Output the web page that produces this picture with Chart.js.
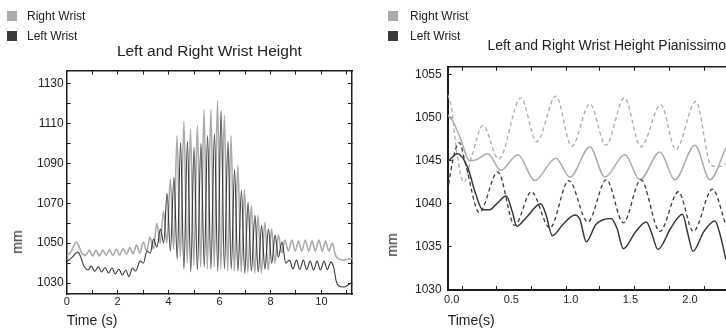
<!DOCTYPE html>
<html><head><meta charset="utf-8">
<script src="https://cdn.jsdelivr.net/npm/chart.js@4.4.1/dist/chart.umd.min.js"></script>
<style>
html,body{margin:0;padding:0;background:#fff;overflow:hidden;width:726px;height:330px;}
.panel{position:absolute;top:0;width:363px;height:330px;}
canvas{display:block;position:absolute;left:0;top:0;}
.legend{position:absolute;left:0;top:0;font:12px 'Liberation Sans',Arial,sans-serif;color:#222;}
.legend .item{position:absolute;white-space:nowrap;height:14px;line-height:14px;}
.legend .sw{position:absolute;left:0;top:2px;width:10px;height:10px;}
.legend .tx{position:absolute;top:0;}
.ylab{position:absolute;font:14px 'Liberation Sans',Arial,sans-serif;color:#222;transform:translate(-50%,-50%) rotate(-90deg);white-space:nowrap;}
</style></head>
<body>
<div class="panel" id="p1" style="left:0">
  <canvas id="c1" width="363" height="330"></canvas>
  <div class="legend" id="lg1"></div>
  <div class="ylab" style="left:17px;top:242px">mm</div>
</div>
<div class="panel" id="p2" style="left:363px">
  <canvas id="c2" width="363" height="330"></canvas>
  <div class="legend" id="lg2"></div>
  <div class="ylab" style="left:29px;top:245px">mm</div>
</div>
<script>
// ---------- Left panel: Left and Right Wrist Height ----------
const leftTimeRight = [0,0.18,0.38,0.62,0.75,0.89,1.02,1.15,1.28,1.42,1.55,1.68,1.81,1.95,2.08,2.21,2.34,2.48,2.61,2.74,2.87,3.01,3.14,3.27,3.40,3.54,3.67,3.80,3.93,4.07,4.20,4.33,4.46,4.60,4.73,4.86,4.99,5.13,5.26,5.39,5.52,5.66,5.79,5.92,6.05,6.19,6.32,6.45,6.58,6.72,6.85,6.98,7.11,7.25,7.38,7.51,7.64,7.78,7.91,8.04,8.17,8.31,8.44,8.57,8.70,8.84,8.97,9.10,9.23,9.37,9.50,9.63,9.76,9.90,10.03,10.16,10.29,10.43,10.55,10.68,10.90,11.05,11.20];
const leftHeightRight = [1043.5,1046,1050.5,1044.5,1044,1046.5,1043.5,1046.5,1043.5,1046.5,1043.8,1046.8,1043.8,1047,1044,1047.3,1044.3,1047.8,1044.6,1049,1045,1050.5,1046,1053,1047,1060,1050,1066,1050,1082,1047,1104,1043,1111,1040,1107,1039,1109,1038,1117,1037,1117,1038,1121.5,1037,1114,1036,1104,1036,1089,1035.5,1077,1035.5,1069,1035,1064,1035,1060.5,1036.5,1057,1040,1054,1045,1051.5,1046,1051.5,1046,1051,1046,1051.5,1046,1051,1046,1051.5,1046,1051,1046,1050,1044,1042,1041.5,1042,1042.3];
const leftTimeLeft = [0,0.18,0.44,0.70,0.84,0.97,1.10,1.24,1.37,1.51,1.64,1.78,1.91,2.05,2.18,2.32,2.44,2.58,2.71,2.88,3.01,3.15,3.28,3.41,3.54,3.68,3.81,3.94,4.07,4.21,4.34,4.47,4.60,4.74,4.87,5.00,5.13,5.27,5.40,5.53,5.66,5.80,5.93,6.06,6.19,6.33,6.46,6.59,6.72,6.86,6.99,7.12,7.25,7.39,7.52,7.65,7.78,7.92,8.05,8.18,8.31,8.45,8.60,8.75,8.88,9.02,9.15,9.29,9.42,9.56,9.69,9.83,9.96,10.10,10.23,10.37,10.48,10.58,10.68,10.90,11.10,11.20];
const leftHeightLeft = [1040.7,1042.5,1045.5,1038,1036.5,1038.5,1035.8,1038.2,1035.5,1037.8,1035,1037.5,1034.5,1037,1034,1036.5,1033.2,1037.5,1036,1041,1040,1046,1045,1052,1048,1057,1050,1075,1046,1083,1042,1100.5,1037,1101,1035.5,1098,1036.5,1100,1038,1104,1037,1105,1036,1116.5,1037,1101,1037,1087,1036,1076.5,1035,1070.5,1036,1064,1035.5,1059,1037,1057,1040,1054,1043,1050.5,1040,1041.5,1037,1041.5,1036.8,1041.5,1036.8,1041,1036.5,1041,1036.5,1041,1036.8,1040.5,1038,1031,1028.5,1028,1029.5,1030.5];
const leftXTicks = [0,1,2,3,4,5,6,7,8,9,10,11];
const leftXLabels = [0,2,4,6,8,10];
const leftYTicks = [1030,1040,1050,1060,1070,1080,1090,1100,1110,1120,1130];
const leftYLabels = [1030,1050,1070,1090,1110,1130];

// ---------- Right panel: Pianissimo ----------
const pianoTimeRightSolid = [-0.034,0,0.067,0.151,0.202,0.303,0.412,0.555,0.697,0.874,0.992,1.160,1.286,1.454,1.580,1.748,1.874,2.042,2.168,2.303];
const pianoHeightRightSolid = [1050.3,1049.8,1047.8,1045,1045.1,1045.8,1043.9,1045.7,1042.7,1045.3,1043.1,1046.6,1043.1,1045.7,1042.8,1046,1042.8,1046.8,1042.8,1046.5];
const pianoTimeRightDashed = [-0.034,0,0.042,0.101,0.168,0.261,0.395,0.580,0.714,0.874,1.008,1.160,1.294,1.450,1.588,1.756,1.882,2.050,2.176,2.235,2.303];
const pianoHeightRightDashed = [1052.7,1051,1046,1042.5,1045.5,1049.1,1045.2,1052.3,1047.2,1052.5,1046.7,1051.6,1046.8,1052.3,1046.6,1051.5,1046.3,1051.9,1044.5,1044.3,1044.6];
const pianoTimeLeftSolid = [-0.034,0.050,0.134,0.202,0.261,0.319,0.370,0.458,0.508,0.546,0.613,0.748,0.790,0.845,0.933,1.034,1.076,1.130,1.210,1.336,1.387,1.441,1.546,1.634,1.681,1.731,1.840,1.937,1.983,2.025,2.118,2.210,2.252,2.303];
const pianoHeightLeftSolid = [1044.9,1045.8,1044.2,1041.1,1039.3,1039.3,1039.9,1040.9,1039.1,1037.4,1038.2,1040,1038.8,1036.3,1037.6,1038.7,1038.2,1035.6,1037.6,1038.3,1037.2,1034.8,1036.8,1037.9,1036.5,1034.7,1037.2,1038.8,1036.5,1034.5,1036.8,1038,1036.5,1033.5];
const pianoTimeLeftDashed = [-0.034,0.008,0.063,0.118,0.231,0.387,0.529,0.668,0.824,0.983,1.143,1.298,1.441,1.588,1.748,1.903,2.029,2.189,2.303];
const pianoHeightLeftDashed = [1041.5,1045,1047.1,1044.5,1039,1043.7,1037.5,1041.4,1037.2,1042.7,1037.9,1042.8,1037.8,1042.8,1036.8,1041.4,1036.8,1041.7,1037.5];
const pianoXLabels = [0,0.5,1,1.5,2];
const pianoXMinor = [0.092,0.378,0.672,0.966,1.244,1.538,1.832,2.126];
const pianoYTicks = [1030,1035,1040,1045,1050,1055];

const legendNames = ['Right Wrist','Left Wrist'];
const LIGHT = '#ababab', DARK = '#3a3a3a', AX = '#1c1c1c';

Chart.defaults.font.family = "'Liberation Sans', Arial, Helvetica, sans-serif";
Chart.defaults.color = '#222';

function pts(ts, vs){ return ts.map((t,i)=>({x:t, y:vs[i]})); }
function setTicks(list){ return (axis)=>{ axis.ticks = list.map(v=>({value:v})); }; }
const hiddenTitle = {display:true, text:'', font:{size:1, lineHeight:0}, padding:{top:4,bottom:0}};

function buildLegend(id, left, gap){
  const el = document.getElementById(id);
  const cols = [LIGHT, DARK];
  legendNames.forEach((n,i)=>{
    const it = document.createElement('div');
    it.className='item'; it.style.left=left+'px'; it.style.top=(9+i*20)+'px';
    it.innerHTML = '<span class="sw" style="background:'+cols[i]+'"></span><span class="tx" style="left:'+gap+'px">'+n+'</span>';
    el.appendChild(it);
  });
}
buildLegend('lg1', 7, 20);
buildLegend('lg2', 25, 22);

const lineBase = {pointRadius:0, fill:false, cubicInterpolationMode:'monotone'};

new Chart(document.getElementById('c1'), {
  type:'line',
  data:{datasets:[
    Object.assign({label:'Right Wrist', data:pts(leftTimeRight,leftHeightRight), borderColor:LIGHT, borderWidth:1.6, order:2}, lineBase),
    Object.assign({label:'Left Wrist', data:pts(leftTimeLeft,leftHeightLeft), borderColor:DARK, borderWidth:1.1, order:1}, lineBase)
  ]},
  options:{
    responsive:false, animation:false, devicePixelRatio:1,
    layout:{padding:{left:30,right:11,top:0,bottom:0}},
    plugins:{
      legend:{display:false}, tooltip:{enabled:false},
      title:{display:true, text:'Left and Right Wrist Height', fullSize:false, color:'#222', font:{size:15.5, weight:'normal'}, padding:{top:42,bottom:10}}
    },
    scales:{
      x:{type:'linear', position:'bottom', min:0, max:11.2, afterBuildTicks:setTicks(leftXTicks),
        ticks:{autoSkip:false, maxRotation:0, padding:5, font:{size:11}, color:'#222', callback:(v)=>leftXLabels.includes(v)?String(v):''},
        grid:{drawOnChartArea:false, tickLength:-4, color:AX, lineWidth:1},
        border:{color:AX, width:1.5},
        title:{display:true, text:'Time (s)', align:'start', color:'#222', font:{size:14}, padding:{top:0,bottom:0}}},
      x2:{type:'linear', position:'top', min:0, max:11.2, afterBuildTicks:setTicks(leftXTicks),
        ticks:{display:false}, grid:{drawOnChartArea:false, tickLength:-4, color:AX, lineWidth:1},
        border:{color:AX, width:1.5}, title:hiddenTitle},
      y:{type:'linear', position:'left', min:1024.5, max:1136.5, afterBuildTicks:setTicks(leftYTicks),
        ticks:{autoSkip:false, padding:7, font:{size:12}, color:'#222', callback:(v)=>leftYLabels.includes(v)?String(v):''},
        grid:{drawOnChartArea:false, tickLength:-4, color:AX, lineWidth:1},
        border:{color:AX, width:1.5}},
      y2:{type:'linear', position:'right', min:1024.5, max:1136.5, afterBuildTicks:setTicks(leftYTicks),
        ticks:{display:false}, grid:{drawOnChartArea:false, tickLength:-4, color:AX, lineWidth:1},
        border:{color:AX, width:1.5}, title:hiddenTitle}
    }
  }
});

const pianoXAll = pianoXLabels.concat(pianoXMinor).sort((a,b)=>a-b);
new Chart(document.getElementById('c2'), {
  type:'line',
  data:{datasets:[
    Object.assign({label:'Right Wrist', data:pts(pianoTimeRightSolid,pianoHeightRightSolid), borderColor:LIGHT, borderWidth:1.5, order:4}, lineBase),
    Object.assign({label:'Right Wrist (dashed)', data:pts(pianoTimeRightDashed,pianoHeightRightDashed), borderColor:LIGHT, borderWidth:1.3, borderDash:[4,3], order:3}, lineBase),
    Object.assign({label:'Left Wrist', data:pts(pianoTimeLeftSolid,pianoHeightLeftSolid), borderColor:DARK, borderWidth:1.5, order:2}, lineBase),
    Object.assign({label:'Left Wrist (dashed)', data:pts(pianoTimeLeftDashed,pianoHeightLeftDashed), borderColor:DARK, borderWidth:1.3, borderDash:[4,3], order:1}, lineBase)
  ]},
  options:{
    responsive:false, animation:false, devicePixelRatio:1,
    layout:{padding:{left:42,right:0,top:0,bottom:0}},
    plugins:{
      legend:{display:false}, tooltip:{enabled:false},
      title:{display:true, text:'Left and Right Wrist Height Pianissimo', fullSize:false, align:'end', color:'#222', font:{size:14, weight:'normal'}, padding:{top:38,bottom:12}}
    },
    scales:{
      x:{type:'linear', position:'bottom', min:-0.034, max:2.303, afterBuildTicks:setTicks(pianoXAll),
        ticks:{autoSkip:false, maxRotation:0, padding:7, font:{size:11}, color:'#222', callback:(v)=>pianoXLabels.includes(v)?v.toFixed(1):''},
        grid:{drawOnChartArea:false, tickLength:-4, lineWidth:1, color:AX, tickColor:(c)=>(c.tick && pianoXLabels.includes(c.tick.value))?'rgba(0,0,0,0)':AX},
        border:{color:AX, width:2},
        title:{display:true, text:'Time(s)', align:'start', color:'#222', font:{size:14}, padding:{top:0,bottom:0}}},
      x2:{type:'linear', position:'top', min:-0.034, max:2.303, afterBuildTicks:setTicks(pianoXMinor),
        ticks:{display:false}, grid:{drawOnChartArea:false, tickLength:-4, color:AX, lineWidth:1},
        border:{color:AX, width:1.5}, title:hiddenTitle},
      y:{type:'linear', position:'left', min:1030, max:1055.9, afterBuildTicks:setTicks(pianoYTicks),
        ticks:{autoSkip:false, padding:10, font:{size:12}, color:'#222', callback:(v)=>String(v)},
        grid:{drawOnChartArea:false, tickLength:-4, color:AX, lineWidth:1},
        border:{color:AX, width:2}}
    }
  }
});
</script>
</body></html>
